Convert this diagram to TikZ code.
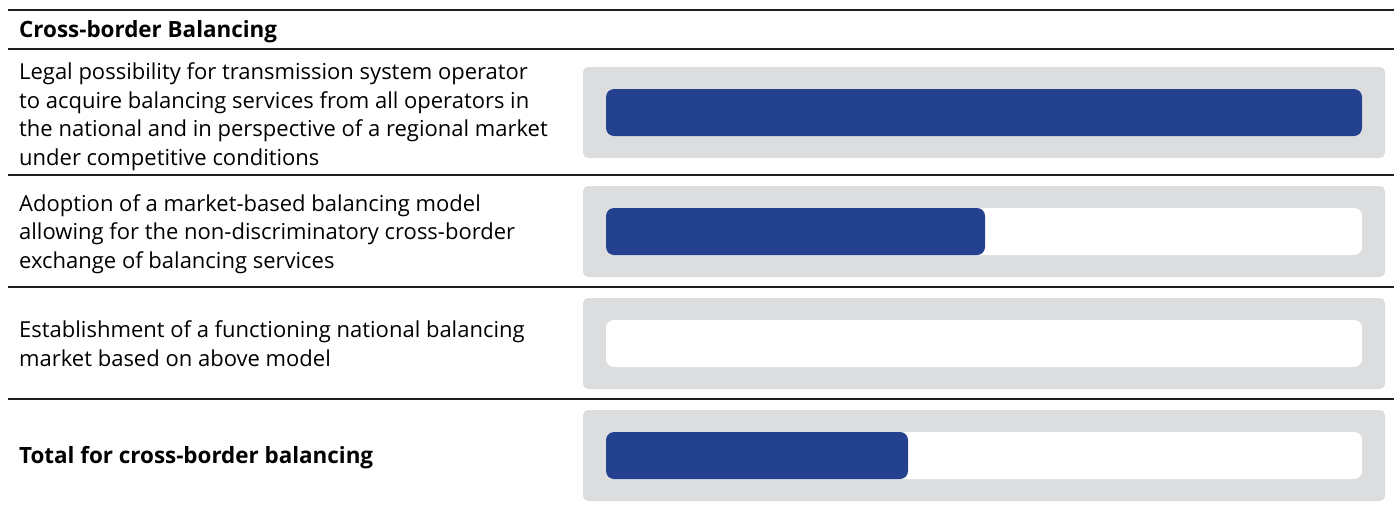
\documentclass[tikz,border=0pt]{standalone}
\usepackage{fontspec}
\setmainfont{Open Sans}
\definecolor{barblue}{HTML}{24418F}
\definecolor{bargray}{HTML}{DCDDDF}
\definecolor{rulecol}{HTML}{1E1E1E}
\begin{document}
\begin{tikzpicture}[x=1pt,y=-1pt,
  rowtext/.style={anchor=base west,inner sep=0pt,align=left,font=\fontsize{22}{28.5}\selectfont},
  boldtext/.style={rowtext,font=\fontsize{22.4}{28.5}\selectfont\bfseries},
  rulestyle/.style={draw=rulecol,line width=1.3pt},
  frame/.style={fill=bargray,rounded corners=5pt},
  track/.style={fill=white,rounded corners=8pt},
  fillbar/.style={fill=barblue,rounded corners=8pt}]
\useasboundingbox (0,0) rectangle (1394,504);
% rules
\foreach \y/\n in {10/r0,49/r1,175/r2,287/r3,399/r4}{
  \coordinate (\n a) at (8,\y);
  \coordinate (\n b) at (1394,\y);
  \draw[rulestyle] (\n a) -- (\n b);
}
% texts (anchor = baseline of the last line)
\node[boldtext] (hdr) at (19,37) {Cross-border Balancing};
\node[rowtext] (t1) at (19,165) {Legal possibility for transmission system operator\\to acquire balancing services from all operators in\\the national and in perspective of a regional market\\under competitive conditions};
\node[rowtext] (t2) at (19,268) {Adoption of a market-based balancing model\\allowing for the non-discriminatory cross-border\\exchange of balancing services};
\node[rowtext] (t3) at (19,366) {Establishment of a functioning national balancing\\market based on above model};
\node[boldtext] (t4) at (19,463) {Total for cross-border balancing};
% bars
\foreach \n/\yt/\e in {b1/67/1362,b2/186/985,b3/298/606,b4/410/908}{
  \path[frame] (583,\yt) rectangle (1385,\yt+91);
  \path[track] (606,\yt+22) rectangle (1362,\yt+69);
  \ifdim \e pt>606pt
    \path[fillbar] (606,\yt+22) rectangle (\e,\yt+69);
  \fi
}
\end{tikzpicture}
\end{document}
